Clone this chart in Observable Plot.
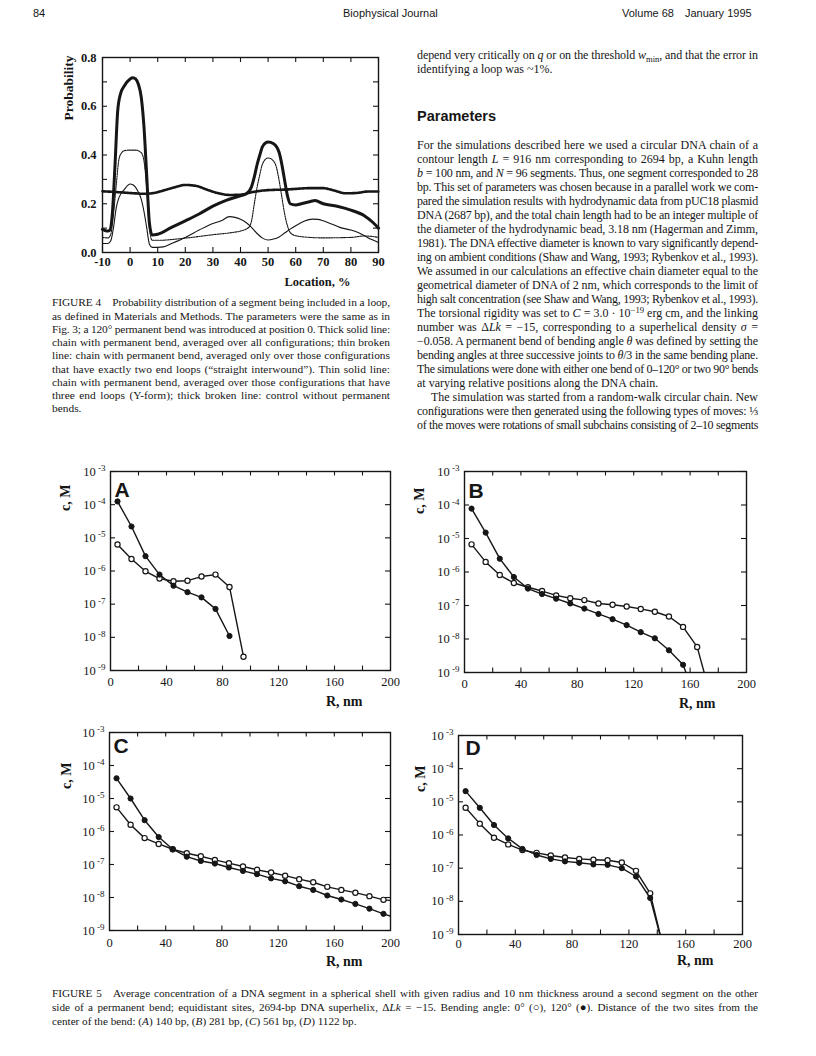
<!DOCTYPE html>
<html><head><meta charset="utf-8">
<script src="https://cdn.jsdelivr.net/npm/d3@7"></script>
<script src="https://cdn.jsdelivr.net/npm/@observablehq/plot@0.6"></script>
<style>
html,body{margin:0;padding:0;background:#fff;}
#page{position:relative;width:816px;height:1056px;overflow:hidden;background:#fff;color:#161616;}
.ln{position:absolute;white-space:nowrap;font-family:"Liberation Serif","Times New Roman",serif;}
.sans{font-family:"Liberation Sans",Arial,sans-serif;}
.sup{font-size:0.72em;position:relative;top:-0.45em;line-height:0;}
.sub{font-size:0.72em;position:relative;top:0.3em;line-height:0;}
.fig{position:absolute;}
.fig svg{max-width:none !important;}
</style></head><body><div id="page"></div>
<script>
// ---------- Figure 4 data: [location %, probability] ----------
const allConfigs = [[-10,0.095],[-8.5,0.088],[-7.5,0.09],[-6.5,0.15],[-5.5,0.35],[-4.5,0.58],[-3.5,0.65],[-2,0.685],[0,0.712],[1,0.717],[2,0.712],[3,0.69],[4,0.64],[5,0.52],[6,0.32],[7,0.12],[8,0.072],[10,0.075],[15,0.103],[20,0.13],[25,0.158],[30,0.19],[35,0.215],[40,0.233],[42,0.24],[44,0.27],[45,0.31],[46,0.36],[47,0.4],[48,0.435],[50,0.453],[52,0.446],[54,0.41],[55,0.36],[56,0.295],[57,0.233],[58,0.2],[60,0.195],[62,0.2],[65,0.208],[67,0.213],[70,0.2],[75,0.19],[80,0.174],[85,0.15],[88,0.123],[90,0.1]];
const straightInterwound = [[-10,0.062],[-8,0.06],[-7,0.075],[-6,0.16],[-5,0.28],[-4,0.385],[-3,0.41],[-2,0.418],[0,0.42],[2,0.42],[4,0.41],[5,0.377],[6,0.267],[7,0.1],[8,0.05],[10,0.05],[20,0.059],[30,0.073],[37,0.082],[40,0.088],[43,0.103],[44,0.13],[45,0.2],[46,0.267],[47,0.32],[48,0.364],[50,0.388],[52,0.375],[53,0.35],[54,0.295],[55,0.226],[56,0.158],[57,0.11],[58,0.082],[60,0.069],[65,0.062],[70,0.06],[80,0.062],[85,0.068],[90,0.062]];
const yForm = [[-10,0.037],[-8,0.037],[-7,0.048],[-6,0.103],[-5,0.185],[-4,0.226],[-2,0.26],[0,0.281],[1,0.278],[2,0.267],[3,0.247],[4,0.22],[5,0.17],[6,0.103],[7,0.034],[8,0.021],[10,0.021],[12,0.023],[15,0.037],[20,0.062],[25,0.092],[30,0.119],[33,0.13],[36,0.147],[38,0.144],[40,0.136],[42,0.123],[44,0.103],[46,0.078],[48,0.059],[50,0.051],[52,0.055],[54,0.064],[56,0.08],[58,0.096],[60,0.11],[63,0.128],[66,0.137],[68,0.136],[70,0.13],[73,0.117],[76,0.103],[80,0.092],[83,0.08],[86,0.062],[88,0.051],[90,0.041]];
const controlNoBend = [[-10,0.251],[-5,0.248],[0,0.244],[5,0.241],[8,0.243],[12,0.254],[16,0.267],[20,0.277],[24,0.273],[28,0.257],[32,0.243],[36,0.236],[40,0.237],[44,0.247],[48,0.254],[52,0.257],[56,0.258],[60,0.261],[65,0.264],[70,0.264],[74,0.254],[78,0.243],[82,0.244],[86,0.25],[90,0.25]];
const locTicks = [-10,0,10,20,30,40,50,60,70,80,90];
const probTicks = [0,0.2,0.4,0.6,0.8];
const probMinorTicks = [0.1,0.2,0.3,0.4,0.5,0.6,0.7];

// ---------- Figure 5 data: radius bins (nm) and concentrations (M) ----------
const radii = [5,15,25,35,45,55,65,75,85,95,105,115,125,135,145,155,165,175,185,195,205];
const aBent = [1.25e-4,2.2e-5,2.8e-6,7.8e-7,3.6e-7,2.3e-7,1.6e-7,7.2e-8,1.1e-8];
const aStraight = [6.3e-6,2.3e-6,9.8e-7,5.9e-7,4.9e-7,5.1e-7,6.8e-7,7.8e-7,3.3e-7,2.6e-9];
const bBent = [7.8e-5,1.5e-5,2.5e-6,7.1e-7,3.2e-7,2.2e-7,1.6e-7,1.15e-7,8.1e-8,5.6e-8,3.9e-8,2.6e-8,1.6e-8,1.05e-8,4.6e-9,1.7e-9,1.3e-10];
const bStraight = [6.7e-6,2.0e-6,8.1e-7,4.7e-7,3.5e-7,2.7e-7,2.0e-7,1.65e-7,1.45e-7,1.15e-7,1.05e-7,9.3e-8,7.9e-8,6.5e-8,4.7e-8,2.3e-8,5.8e-9,1.7e-10];
const cBent = [4.1e-5,1.0e-5,2.2e-6,6.8e-7,2.9e-7,1.73e-7,1.28e-7,1.07e-7,8.1e-8,6.4e-8,5.1e-8,3.8e-8,3.1e-8,2.2e-8,1.7e-8,1.15e-8,8.7e-9,6.4e-9,4.6e-9,3.2e-9,2.3e-9];
const cStraight = [5.4e-6,1.6e-6,6.3e-7,4.2e-7,2.9e-7,2.2e-7,1.78e-7,1.38e-7,1.1e-7,8.7e-8,6.9e-8,5.7e-8,4.6e-8,3.6e-8,2.9e-8,2.1e-8,1.7e-8,1.4e-8,1.1e-8,8.5e-9,7.8e-9];
const dBent = [2.1e-5,6.6e-6,2.0e-6,7.9e-7,3.8e-7,2.5e-7,1.9e-7,1.6e-7,1.45e-7,1.3e-7,1.26e-7,1.0e-7,5.6e-8,1.26e-8,3e-10];
const dStraight = [6.6e-6,2.2e-6,8.3e-7,5.2e-7,3.5e-7,2.9e-7,2.4e-7,2.1e-7,1.9e-7,1.8e-7,1.74e-7,1.48e-7,8.3e-8,1.74e-8,3e-10];
const rTicks = [0,40,80,120,160,200];
const rMinorTicks = [20,40,60,80,100,120,140,160,180];
const cTicks = [1e-9,1e-8,1e-7,1e-6,1e-5,1e-4,1e-3];

const page = document.getElementById("page");
const INK = "#161616";

function place(svg, left, top, w) {
  const d = document.createElement("div");
  d.className = "fig";
  d.style.left = left + "px"; d.style.top = top + "px"; d.style.width = w + "px";
  d.appendChild(svg);
  page.appendChild(d);
}

// ---------- Figure 4 ----------
(function(){
  const fl = 102, fr = 378, ft = 57, fb = 252;
  const mL = 82, mR = 12, mT = 17, mB = 48;
  const W = fr - fl, H = fb - ft;
  const serif = "'Liberation Serif','Times New Roman',serif";
  const svg = Plot.plot({
    width: W + mL + mR, height: H + mT + mB,
    marginLeft: mL, marginRight: mR, marginTop: mT, marginBottom: mB,
    style: {fontFamily: serif, fontSize: "12.5px", fontWeight: "bold", color: INK, background: "transparent", overflow: "visible"},
    x: {domain: [-10, 90]},
    y: {domain: [0, 0.8]},
    marks: [
      Plot.tickX(locTicks, {x: d => d, insetTop: H - 5, strokeWidth: 1.1}),
      Plot.tickX(locTicks, {x: d => d, insetBottom: H - 5, strokeWidth: 1.1}),
      Plot.tickY(probMinorTicks, {y: d => d, insetRight: W - 5, strokeWidth: 1.1}),
      Plot.tickY(probMinorTicks, {y: d => d, insetLeft: W - 5, strokeWidth: 1.1}),
      Plot.axisX(locTicks, {tickSize: 0, tickPadding: 5, label: null, tickFormat: d => String(d)}),
      Plot.axisY(probTicks, {tickSize: 0, tickPadding: 6, label: null, tickFormat: d => d.toFixed(1)}),
      Plot.line(controlNoBend, {x: d => d[0], y: d => d[1], stroke: INK, strokeWidth: 2.6, strokeDasharray: "1.2,1.1", curve: "monotone-x"}),
      Plot.line(yForm, {x: d => d[0], y: d => d[1], stroke: INK, strokeWidth: 1.1, curve: "monotone-x"}),
      Plot.line(straightInterwound, {x: d => d[0], y: d => d[1], stroke: INK, strokeWidth: 1.1, strokeDasharray: "1.6,1", curve: "monotone-x"}),
      Plot.line(allConfigs, {x: d => d[0], y: d => d[1], stroke: INK, strokeWidth: 3, curve: "monotone-x"}),
      Plot.frame({stroke: INK, strokeWidth: 1.4}),
      Plot.text(["Probability"], {text: d => d, frameAnchor: "top-left", rotate: -90, textAnchor: "end", dx: -39, dy: -2, fontSize: 13.5, fontWeight: "bold", fill: INK}),
      Plot.text(["Location, %"], {text: d => d, frameAnchor: "bottom-right", textAnchor: "end", dx: -28, dy: 33, fontSize: 12.5, fontWeight: "bold", fill: INK})
    ]
  });
  place(svg, fl - mL, ft - mT, W + mL + mR);
})();

// ---------- Figure 5 panels ----------
function panel(cfg) {
  const mL = 62, mR = 12, mT = 10, mB = 45;
  const W = cfg.fr - cfg.fl, H = cfg.fb - cfg.ft;
  const serif = "'Liberation Serif','Times New Roman',serif";
  const bent = cfg.bent.map((c, i) => ({r: radii[i], c}));
  const straight = cfg.straight.map((c, i) => ({r: radii[i], c}));
  const inView = d => d.r <= 200 && d.c >= 1e-9;
  const svg = Plot.plot({
    width: W + mL + mR, height: H + mT + mB,
    marginLeft: mL, marginRight: mR, marginTop: mT, marginBottom: mB,
    style: {fontFamily: serif, fontSize: "12.5px", color: INK, background: "transparent", overflow: "visible"},
    x: {domain: [0, 200]},
    y: {type: "log", domain: [1e-9, 1e-3]},
    marks: [
      Plot.tickX(rMinorTicks, {x: d => d, insetTop: H - 4.5, strokeWidth: 1.1}),
      Plot.tickX(rMinorTicks, {x: d => d, insetBottom: H - 4.5, strokeWidth: 1.1}),
      Plot.tickY(cTicks, {y: d => d, insetRight: W - 5, strokeWidth: 1.1}),
      Plot.tickY(cTicks, {y: d => d, insetLeft: W - 5, strokeWidth: 1.1}),
      Plot.axisX(rTicks, {tickSize: 0, tickPadding: cfg.xPad, label: null, tickFormat: d => String(d)}),
      Plot.axisY(cTicks, {tickSize: 0, tickPadding: 5, label: null, tickFormat: d => "10^" + Math.round(Math.log10(d))}),
      Plot.line(straight, {x: "r", y: "c", stroke: INK, strokeWidth: 1.4, clip: true}),
      Plot.line(bent, {x: "r", y: "c", stroke: INK, strokeWidth: 1.4, clip: true}),
      Plot.dot(straight.filter(inView), {x: "r", y: "c", r: 2.6, fill: "white", stroke: INK, strokeWidth: 1.2}),
      Plot.dot(bent.filter(inView), {x: "r", y: "c", r: 2.6, fill: INK, stroke: INK, strokeWidth: 1}),
      Plot.frame({stroke: INK, strokeWidth: 1.4}),
      Plot.text([cfg.letter], {text: d => d, frameAnchor: "top-left", textAnchor: "start", lineAnchor: "top", dx: cfg.letterDx, dy: cfg.letterDy, fontFamily: "'Liberation Sans',Arial,sans-serif", fontWeight: "bold", fontSize: 21, fill: INK}),
      Plot.text(["c, M"], {text: d => d, frameAnchor: "top-left", rotate: -90, textAnchor: "end", dx: cfg.cmDx, dy: cfg.cmDy, fontWeight: "bold", fontSize: 14, fill: INK}),
      Plot.text(["R, nm"], {text: d => d, frameAnchor: "bottom-right", textAnchor: "end", dx: cfg.rnDx, dy: cfg.rnDy, fontWeight: "bold", fontSize: 14, fill: INK})
    ]
  });
  // render "10^-n" tick labels as 10 with a raised exponent
  d3.select(svg).selectAll('g[aria-label="y-axis tick label"] text').each(function() {
    const t = this.textContent;
    const k = t.indexOf("^");
    if (k < 0) return;
    const base = t.slice(0, k), ex = t.slice(k + 1);
    const s = d3.select(this);
    s.text(base);
    s.append("tspan").attr("dy", "-0.5em").attr("font-size", "0.72em").text(" " + ex);
  });
  place(svg, cfg.fl - mL, cfg.ft - mT, W + mL + mR);
}

panel({letter: "A", bent: aBent, straight: aStraight, fl: 110, fr: 390, ft: 471, fb: 670, xPad: 7, letterDx: 4, letterDy: 11, cmDx: -50, cmDy: 13, rnDx: -28, rnDy: 35});
panel({letter: "B", bent: bBent, straight: bStraight, fl: 464, fr: 746, ft: 471, fb: 672, xPad: 7, letterDx: 4, letterDy: 12, cmDx: -50, cmDy: 16, rnDx: -31, rnDy: 35});
panel({letter: "C", bent: cBent, straight: cStraight, fl: 109, fr: 390, ft: 732, fb: 930, xPad: 8, letterDx: 4, letterDy: 6, cmDx: -48, cmDy: 30, rnDx: -28, rnDy: 35});
panel({letter: "D", bent: dBent, straight: dStraight, fl: 458, fr: 742, ft: 735, fb: 934, xPad: 5, letterDx: 7, letterDy: 5, cmDx: -43, cmDy: 30, rnDx: -29, rnDy: 30});

// ---------- page text ----------
function addLines(lines, o) {
  lines.forEach((ln, i) => {
    const item = typeof ln === "string" ? {html: ln, justify: true} : ln;
    const d = document.createElement("div");
    d.className = "ln" + (o.sans ? " sans" : "");
    const indent = item.indent || 0;
    d.style.left = (o.left + indent) + "px";
    d.style.top = (o.y0 + i * o.lh - o.lh / 2) + "px";
    d.style.lineHeight = o.lh + "px";
    d.style.fontSize = o.size + "px";
    if (o.weight) d.style.fontWeight = o.weight;
    d.innerHTML = item.html;
    page.appendChild(d);
    const target = o.width ? o.width - indent : Infinity;
    let nat = d.getBoundingClientRect().width;
    const chars = d.textContent.length;
    if (nat > target && chars > 1) {
      d.style.letterSpacing = ((target - nat) / chars) + "px";
      nat = d.getBoundingClientRect().width;
    }
    if (item.justify && isFinite(target)) {
      const n = (d.textContent.match(/ /g) || []).length;
      if (n) d.style.wordSpacing = ((target - nat) / n) + "px";
    }
  });
}

// running header
addLines([{html: "84"}], {left: 33, y0: 13, lh: 14, size: 11, sans: true});
addLines([{html: "Biophysical Journal"}], {left: 343, y0: 13, lh: 14, size: 11, sans: true});
addLines([{html: "Volume 68&emsp;January 1995"}], {left: 622, y0: 13, lh: 14, size: 11, sans: true});

// Figure 4 caption
addLines([
  "FIGURE 4&emsp;Probability distribution of a segment being included in a loop,",
  "as defined in Materials and Methods. The parameters were the same as in",
  "Fig. 3; a 120° permanent bend was introduced at position 0. Thick solid line:",
  "chain with permanent bend, averaged over all configurations; thin broken",
  "line: chain with permanent bend, averaged only over those configurations",
  "that have exactly two end loops (“straight interwound”). Thin solid line:",
  "chain with permanent bend, averaged over those configurations that have",
  "three end loops (Y-form); thick broken line: control without permanent",
  {html: "bends."}
], {left: 52, width: 338, y0: 303, lh: 13.25, size: 11.4});

// right column
addLines([
  "depend very critically on <i>q</i> or on the threshold <i>w</i><span class=\"sub\">min</span>, and that the error in",
  {html: "identifying a loop was ~1%."}
], {left: 417, width: 341, y0: 55, lh: 14, size: 12});
addLines([{html: "Parameters"}], {left: 417, y0: 116, lh: 18, size: 14.5, sans: true, weight: "bold"});
addLines([
  "For the simulations described here we used a circular DNA chain of a",
  "contour length <i>L</i> = 916 nm corresponding to 2694 bp, a Kuhn length",
  "<i>b</i> = 100 nm, and <i>N</i> = 96 segments. Thus, one segment corresponded to 28",
  "bp. This set of parameters was chosen because in a parallel work we com-",
  "pared the simulation results with hydrodynamic data from pUC18 plasmid",
  "DNA (2687 bp), and the total chain length had to be an integer multiple of",
  "the diameter of the hydrodynamic bead, 3.18 nm (Hagerman and Zimm,",
  "1981). The DNA effective diameter is known to vary significantly depend-",
  "ing on ambient conditions (Shaw and Wang, 1993; Rybenkov et al., 1993).",
  "We assumed in our calculations an effective chain diameter equal to the",
  "geometrical diameter of DNA of 2 nm, which corresponds to the limit of",
  "high salt concentration (see Shaw and Wang, 1993; Rybenkov et al., 1993).",
  "The torsional rigidity was set to <i>C</i> = 3.0 · 10<span class=\"sup\">−19</span> erg cm, and the linking",
  "number was Δ<i>Lk</i> = −15, corresponding to a superhelical density <i>σ</i> =",
  "−0.058. A permanent bend of bending angle <i>θ</i> was defined by setting the",
  "bending angles at three successive joints to <i>θ</i>/3 in the same bending plane.",
  "The simulations were done with either one bend of 0–120° or two 90° bends",
  {html: "at varying relative positions along the DNA chain."},
  {html: "The simulation was started from a random-walk circular chain. New", justify: true, indent: 14},
  "configurations were then generated using the following types of moves: ⅓",
  "of the moves were rotations of small subchains consisting of 2–10 segments"
], {left: 417, width: 341, y0: 145, lh: 14, size: 12});

// Figure 5 caption
addLines([
  "FIGURE 5&emsp;Average concentration of a DNA segment in a spherical shell with given radius and 10 nm thickness around a second segment on the other",
  "side of a permanent bend; equidistant sites, 2694-bp DNA superhelix, Δ<i>Lk</i> = −15. Bending angle: 0° (○), 120° (●). Distance of the two sites from the",
  {html: "center of the bend: (<i>A</i>) 140 bp, (<i>B</i>) 281 bp, (<i>C</i>) 561 bp, (<i>D</i>) 1122 bp."}
], {left: 52, width: 706, y0: 993, lh: 14, size: 11.2});
</script></body></html>
